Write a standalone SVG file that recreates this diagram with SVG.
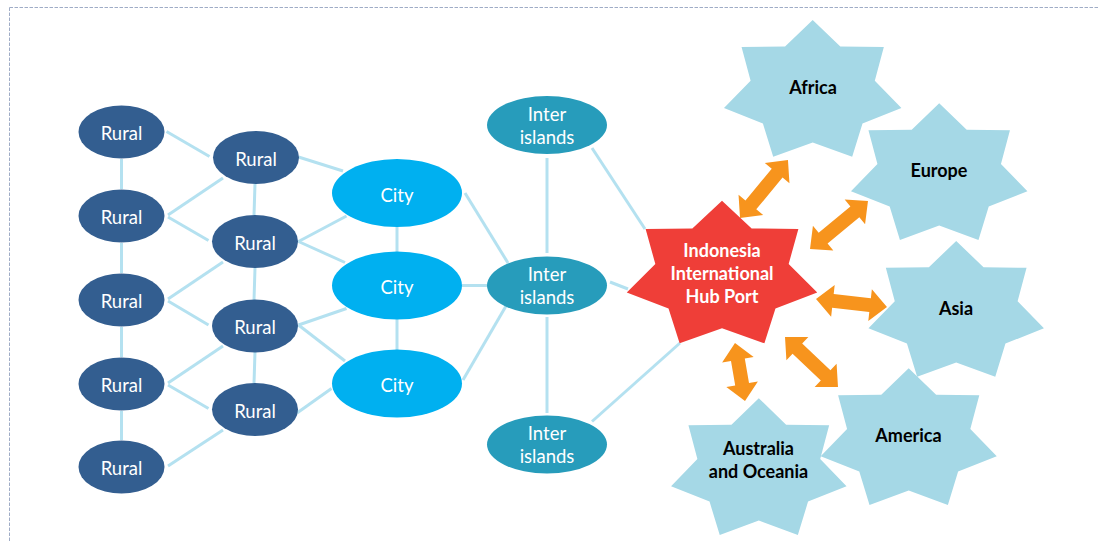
<svg xmlns="http://www.w3.org/2000/svg" xmlns:xlink="http://www.w3.org/1999/xlink" width="1098" height="541" viewBox="0 0 1098 541">
<style>
.rural{fill:#335E90}
.city{fill:#00B0F0}
.inter{fill:#279CBB}
.region{fill:#A5D8E6}
.hub{fill:#EF3E38}
.ntext{font-family:Lato,"Liberation Sans",sans-serif;font-size:18.5px;fill:#FFFFFF;text-anchor:middle;dominant-baseline:central}
.stext{font-family:Lato,"Liberation Sans",sans-serif;font-size:18px;font-weight:bold;fill:#000000;text-anchor:middle;dominant-baseline:central}
.htext{font-family:Lato,"Liberation Sans",sans-serif;font-size:18px;font-weight:bold;fill:#FFFFFF;text-anchor:middle;dominant-baseline:central}
.conn line{stroke:#B4E1F0;stroke-width:3;fill:none}
.arrow{fill:#F7941D}
.frame{stroke:#9FACC6;stroke-width:1;stroke-dasharray:3.5 1.5;fill:none}
</style>
<defs>
<path id="star7" d="M0,-1 L0.3037,-0.6307 L0.7818,-0.6235 L0.6824,-0.1558 L0.9749,0.2225 L0.5473,0.4364 L0.4339,0.901 L0,0.7 L-0.4339,0.901 L-0.5473,0.4364 L-0.9749,0.2225 L-0.6824,-0.1558 L-0.7818,-0.6235 L-0.3037,-0.6307 Z"/>
</defs>
<rect x="0" y="0" width="1098" height="541" fill="#FFFFFF"/>
<line class="frame" x1="9.5" y1="7.5" x2="1098" y2="7.5"/>
<line class="frame" x1="9.5" y1="7.5" x2="9.5" y2="541"/>

<g id="connectors" class="conn">
<line x1="121.5" y1="159" x2="121.5" y2="189"/>
<line x1="121.5" y1="243" x2="121.5" y2="273"/>
<line x1="121.5" y1="327" x2="121.5" y2="357"/>
<line x1="121.5" y1="411" x2="121.5" y2="440"/>
<line x1="166.5" y1="131.5" x2="209.5" y2="156.5"/>
<line x1="168" y1="215" x2="223" y2="178"/>
<line x1="168" y1="217" x2="208.5" y2="240.5"/>
<line x1="168" y1="299" x2="223" y2="262"/>
<line x1="168" y1="301" x2="208.5" y2="325"/>
<line x1="168" y1="383" x2="223" y2="346"/>
<line x1="168" y1="385" x2="208.5" y2="408.5"/>
<line x1="168" y1="466" x2="223" y2="430"/>
<line x1="255" y1="184" x2="254" y2="215"/>
<line x1="255" y1="268" x2="254" y2="300"/>
<line x1="255" y1="352" x2="254" y2="383"/>
<line x1="298.5" y1="157" x2="343" y2="171"/>
<line x1="298.5" y1="241.5" x2="346.5" y2="216"/>
<line x1="298.5" y1="241.5" x2="345" y2="262.5"/>
<line x1="298.5" y1="325" x2="346.5" y2="308.5"/>
<line x1="298.5" y1="325" x2="345" y2="361"/>
<line x1="297" y1="413" x2="331.5" y2="388.5"/>
<line x1="397" y1="226" x2="397" y2="253"/>
<line x1="397" y1="318" x2="397" y2="350"/>
<line x1="465" y1="193" x2="508" y2="263"/>
<line x1="462" y1="285.5" x2="487.5" y2="285.5"/>
<line x1="463" y1="380" x2="506" y2="306"/>
<line x1="547" y1="158" x2="547" y2="253"/>
<line x1="547" y1="317" x2="547" y2="413"/>
<line x1="592" y1="148" x2="645" y2="229"/>
<line x1="610" y1="282" x2="628" y2="289"/>
<line x1="592" y1="421.5" x2="680" y2="343"/>
</g>

<g id="rural-1-1"><ellipse class="rural" cx="121.5" cy="132" rx="43" ry="26.5"/><text class="ntext" x="121.5" y="133">Rural</text></g>
<g id="rural-1-2"><ellipse class="rural" cx="121.5" cy="216" rx="43" ry="26.5"/><text class="ntext" x="121.5" y="217">Rural</text></g>
<g id="rural-1-3"><ellipse class="rural" cx="121.5" cy="300" rx="43" ry="26.5"/><text class="ntext" x="121.5" y="301">Rural</text></g>
<g id="rural-1-4"><ellipse class="rural" cx="121.5" cy="384" rx="43" ry="26.5"/><text class="ntext" x="121.5" y="385">Rural</text></g>
<g id="rural-1-5"><ellipse class="rural" cx="121.5" cy="467" rx="43" ry="26.5"/><text class="ntext" x="121.5" y="468">Rural</text></g>

<g id="rural-2-1"><ellipse class="rural" cx="256" cy="157.5" rx="43" ry="26.5"/><text class="ntext" x="256" y="158.5">Rural</text></g>
<g id="rural-2-2"><ellipse class="rural" cx="255" cy="241.5" rx="43" ry="26.5"/><text class="ntext" x="255" y="242.5">Rural</text></g>
<g id="rural-2-3"><ellipse class="rural" cx="255" cy="326" rx="43" ry="26.5"/><text class="ntext" x="255" y="327">Rural</text></g>
<g id="rural-2-4"><ellipse class="rural" cx="255" cy="409.5" rx="43" ry="26.5"/><text class="ntext" x="255" y="410.5">Rural</text></g>

<g id="city-1"><ellipse class="city" cx="397" cy="193" rx="65" ry="34"/><text class="ntext" x="397" y="194.5">City</text></g>
<g id="city-2"><ellipse class="city" cx="397" cy="285.5" rx="65" ry="34"/><text class="ntext" x="397" y="287">City</text></g>
<g id="city-3"><ellipse class="city" cx="397" cy="383.5" rx="65" ry="34"/><text class="ntext" x="397" y="385">City</text></g>

<g id="inter-1"><ellipse class="inter" cx="547" cy="125" rx="60" ry="29"/><text class="ntext" x="547" y="113.5">Inter</text><text class="ntext" x="547" y="136.5">islands</text></g>
<g id="inter-2"><ellipse class="inter" cx="547" cy="285.5" rx="60" ry="29"/><text class="ntext" x="547" y="273.5">Inter</text><text class="ntext" x="547" y="296.5">islands</text></g>
<g id="inter-3"><ellipse class="inter" cx="547" cy="444.5" rx="60" ry="29"/><text class="ntext" x="547" y="432.5">Inter</text><text class="ntext" x="547" y="455.5">islands</text></g>

<g id="africa"><use xlink:href="#star7" href="#star7" class="region" transform="translate(812.7,92) scale(91,72)"/><text class="stext" x="813" y="87">Africa</text></g>
<g id="europe"><use xlink:href="#star7" href="#star7" class="region" transform="translate(939.2,175.2) scale(90.5,72)"/><text class="stext" x="939" y="170">Europe</text></g>
<g id="asia"><use xlink:href="#star7" href="#star7" class="region" transform="translate(956.2,312.4) scale(90,71.5)"/><text class="stext" x="956" y="308">Asia</text></g>
<g id="america"><use xlink:href="#star7" href="#star7" class="region" transform="translate(908.7,440.2) scale(90.3,72)"/><text class="stext" x="908.5" y="435">America</text></g>
<g id="australia"><use xlink:href="#star7" href="#star7" class="region" transform="translate(758.8,470.2) scale(90,72)"/><text class="stext" x="758.5" y="448">Australia</text><text class="stext" x="758.5" y="470.5">and Oceania</text></g>

<g id="hub"><use xlink:href="#star7" href="#star7" class="hub" transform="translate(722,275.7) scale(97.7,75)"/><text class="htext" x="722" y="250">Indonesia</text><text class="htext" x="722" y="273">International</text><text class="htext" x="722" y="296">Hub Port</text></g>

<g id="arrows" class="arrow">
<path transform="translate(764,189) rotate(-50.4)" d="M-37.6,0 L-20.6,-16 L-20.6,-7 L20.6,-7 L20.6,-16 L37.6,0 L20.6,16 L20.6,7 L-20.6,7 L-20.6,16 Z"/>
<path transform="translate(839,225) rotate(-39.6)" d="M-37.6,0 L-20.6,-16 L-20.6,-7 L20.6,-7 L20.6,-16 L37.6,0 L20.6,16 L20.6,7 L-20.6,7 L-20.6,16 Z"/>
<path transform="translate(851.5,303) rotate(6.4)" d="M-35.7,0 L-18.7,-16 L-18.7,-7 L18.7,-7 L18.7,-16 L35.7,0 L18.7,16 L18.7,7 L-18.7,7 L-18.7,16 Z"/>
<path transform="translate(811.5,362) rotate(43.3)" d="M-36.4,0 L-19.4,-16 L-19.4,-7 L19.4,-7 L19.4,-16 L36.4,0 L19.4,16 L19.4,7 L-19.4,7 L-19.4,16 Z"/>
<path transform="translate(740,372) rotate(80.2)" d="M-29.4,0 L-12.4,-16 L-12.4,-7 L12.4,-7 L12.4,-16 L29.4,0 L12.4,16 L12.4,7 L-12.4,7 L-12.4,16 Z"/>
</g>
</svg>
